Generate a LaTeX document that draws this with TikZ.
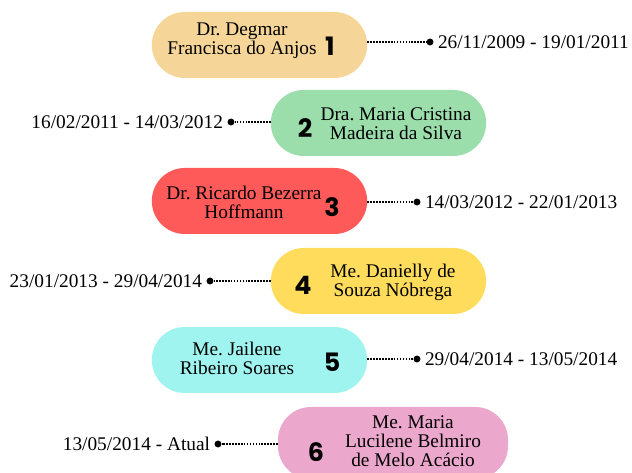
\documentclass[tikz,border=0pt]{standalone}
\usepackage{fontspec}
\setmainfont{Liberation Serif}
\newfontfamily\numfont{Poppins}
\usetikzlibrary{positioning}
\definecolor{pillsand}{RGB}{245,214,152}
\definecolor{pillgreen}{RGB}{155,222,172}
\definecolor{pillred}{RGB}{255,90,90}
\definecolor{pillyellow}{RGB}{255,220,92}
\definecolor{pillcyan}{RGB}{160,244,240}
\definecolor{pillpink}{RGB}{236,167,204}
\frenchspacing

\begin{document}
\begin{tikzpicture}[
		x=0.75pt, y=-0.75pt, % pixel grid of the reference
		pill/.style={rectangle, draw=none, rounded corners=24.7pt, minimum width=161.5pt, minimum height=49.5pt},
		person/.style={align=center, inner sep=0pt, font=\fontsize{14.5}{14.3}\selectfont},
		num/.style={inner sep=0pt, font=\numfont\bfseries\fontsize{19}{19}\selectfont},
		dot/.style={circle, fill=black, inner sep=0pt, minimum size=5.2pt},
		link/.style={line width=1.2pt, dash pattern=on 1.2pt off 1pt},
		period/.style={inner sep=0pt, font=\fontsize{14.5}{14.5}\selectfont}
		]
		
		% Fix the frame
		\useasboundingbox (0,0) rectangle (632,473);
		
		% Entry 1
		\node[pill, fill=pillsand] (p1) at (259.5,45) {};
		\node[person] (n1) at (242,41) {Dr. Degmar\\Francisca do Anjos};
		\node[num] (k1) at (330,46) {1};
		\node[dot] (d1) at (430,42) {};
		\node[period, right=3pt of d1] (t1) {26/11/2009 - 19/01/2011};
		\draw[link] (p1.east |- d1) -- (d1);
		
		% Entry 2
		\node[pill, fill=pillgreen] (p2) at (378.5,123) {};
		\node[person] (n2) at (396,124) {Dra. Maria Cristina\\Madeira da Silva};
		\node[num] (k2) at (305,128) {2};
		\node[dot] (d2) at (231,122) {};
		\node[period, left=3pt of d2] (t2) {16/02/2011 - 14/03/2012};
		\draw[link] (p2.west |- d2) -- (d2);
		
		% Entry 3
		\node[pill, fill=pillred] (p3) at (259.5,201) {};
		\node[person] (n3) at (244,202) {Dr. Ricardo Bezerra\\Hoffmann};
		\node[num] (k3) at (332,207) {3};
		\node[dot] (d3) at (417,202) {};
		\node[period, right=3pt of d3] (t3) {14/03/2012 - 22/01/2013};
		\draw[link] (p3.east |- d3) -- (d3);
		
		% Entry 4
		\node[pill, fill=pillyellow] (p4) at (378.5,281) {};
		\node[person] (n4) at (393,282) {Me. Danielly de\\Souza Nóbrega};
		\node[num] (k4) at (303,285) {4};
		\node[dot] (d4) at (210,281) {};
		\node[period, left=3pt of d4] (t4) {23/01/2013 - 29/04/2014};
		\draw[link] (p4.west |- d4) -- (d4);
		
		% Entry 5
		\node[pill, fill=pillcyan] (p5) at (259.5,360) {};
		\node[person] (n5) at (237,358) {Me. Jailene\\Ribeiro Soares};
		\node[num] (k5) at (332,362) {5};
		\node[dot] (d5) at (417,359) {};
		\node[period, right=3pt of d5] (t5) {29/04/2014 - 13/05/2014};
		\draw[link] (p5.east |- d5) -- (d5);
		
		% Entry 6
		\node[pill, fill=pillpink, minimum width=172.5pt, minimum height=54pt] (p6) at (393,443) {};
		\node[person] (n6) at (413,441) {Me. Maria\\Lucilene Belmiro\\de Melo Acácio};
		\node[num] (k6) at (316,452) {6};
		\node[dot] (d6) at (218,444) {};
		\node[period, left=3pt of d6] (t6) {13/05/2014 - Atual};
		\draw[link] (p6.west |- d6) -- (d6);
	\end{tikzpicture}
\end{document}
